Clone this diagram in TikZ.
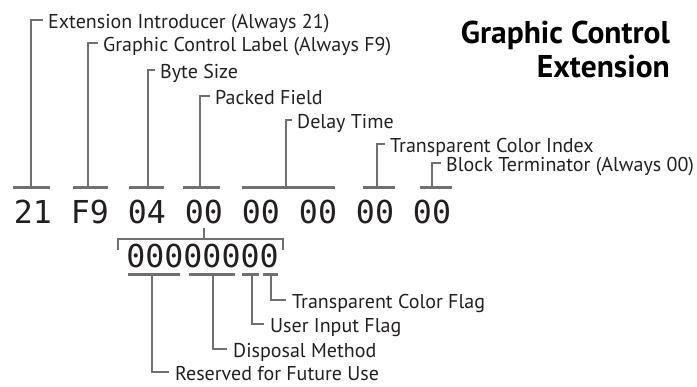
\documentclass[tikz,border=0pt]{standalone}
\usepackage{fontspec}
\setmainfont{PT Sans}
\newfontfamily\hexfont{DejaVu Sans Mono}
\usetikzlibrary{positioning}
\definecolor{gcegray}{HTML}{707070}
\definecolor{gcetext}{HTML}{231F20}

\begin{document}
\begin{tikzpicture}[x=1pt, y=-1pt,
        lbl/.style={anchor=west, inner sep=0pt, text height=18pt, text depth=0pt, font=\fontsize{20}{22}\selectfont, text=gcetext},
        hex/.style={anchor=base, inner sep=0pt, font=\hexfont\fontsize{31.6}{34}\selectfont, text=gcetext},
        ttl/.style={anchor=base east, inner sep=0pt, font=\bfseries\fontsize{31.5}{34}\selectfont},
        bar/.style={draw=gcegray, line width=3pt},
        lead/.style={draw=gcegray, line width=2pt}
    ]
      \path[use as bounding box] (0,0) rectangle (697,387);

      % title
      \node[ttl] (title) at (670,44) {Graphic Control};
      \node[ttl] (titleb) at (670,78) {Extension};

      % the eight bytes
      \foreach \v [count=\i] in {21,F9,04,00,00,00,00,00}
        \node[hex] (b\i) at ({33+57*(\i-1)},224) {\v};

      % field names
      \node[lbl] (intro) at (48,20) {Extension Introducer (Always 21)};
      \node[lbl] (gclabel) at (103,43) {Graphic Control Label (Always F9)};
      \node[lbl] (size) at (160,70) {Byte Size};
      \node[lbl] (packed) at (215,96) {Packed Field};
      \node[lbl] (delay) at (297,120) {Delay Time};
      \node[lbl] (index) at (390,144) {Transparent Color Index};
      \node[lbl] (term) at (446,163) {Block Terminator (Always 00)};

      \foreach \a/\m/\b/\n in {13/31/50/intro, 73/88/108/gclabel, 129/148/164/size,
          183/200/220/packed, 242/286/335/delay, 363/377/395/index, 420/432/452/term} {
        \coordinate (s\n) at (\m,188);
        \draw[bar] (\a,188) -- (\b,188);
        \draw[lead] (s\n) |- ([xshift=-5pt]\n.west);
      }

      % packed field bits
      \node[hex] (bits) at (202.5,268) {00000000};
      \coordinate (bl) at (118,250);
      \coordinate (br) at (283,250);
      \draw[lead] ([yshift=-3pt]b4.south) -- ([yshift=-14pt]b4.south);
      \draw[lead] (bl) |- ([yshift=-14pt]b4.south) -| (br);

      \node[lbl] (reserved) at (175,372) {Reserved for Future Use};
      \node[lbl] (disposal) at (233,349) {Disposal Method};
      \node[lbl] (userinput) at (270,324) {User Input Flag};
      \node[lbl] (transflag) at (292,300) {Transparent Color Flag};

      \foreach \a/\m/\b/\n in {128/152/180/reserved, 189/213/235/disposal,
          242/252/259/userinput, 263/271/278/transflag} {
        \coordinate (u\n) at (\m,275);
        \draw[bar] (\a,275) -- (\b,275);
        \draw[lead] (u\n) |- ([xshift=-6pt]\n.west);
      }
    \end{tikzpicture}
\end{document}
